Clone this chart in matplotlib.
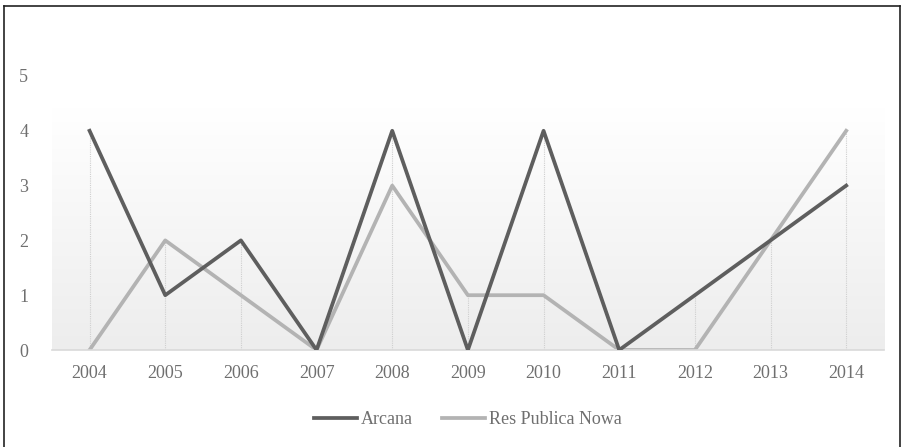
import matplotlib.pyplot as plt
import numpy as np

years = ['2004', '2005', '2006', '2007', '2008', '2009', '2010',
         '2011', '2012', '2013', '2014']
arcana = [4, 1, 2, 0, 4, 0, 4, 0, 1, 2, 3]
res_publica = [0, 2, 1, 0, 3, 1, 1, 0, 0, 2, 4]

plt.rcParams['font.family'] = ['Liberation Serif', 'DejaVu Serif']

fig = plt.figure(figsize=(9.03, 4.47), dpi=100)
ax = fig.add_axes([0.0573, 0.217, 0.9217, 0.613])

x = np.arange(len(years))

# soft grey gradient behind the lines
grad = np.linspace(0, 1, 256).reshape(-1, 1)
ax.imshow(grad, extent=[-0.5, 10.5, 0, 4.4], aspect='auto', origin='lower',
          cmap=plt.matplotlib.colors.LinearSegmentedColormap.from_list(
              'bg', ['#ededed', '#ffffff']), zorder=0)

# drop lines from each point to the baseline
tops = np.maximum(arcana, res_publica)
ax.vlines(x, 0, tops, colors='#cfcfcf', linewidth=0.8,
          linestyles=(0, (1, 1)), zorder=1)

ax.plot(x, arcana, color='#5e5e5e', linewidth=2.7, label='Arcana', zorder=3)
ax.plot(x, res_publica, color='#b3b3b3', linewidth=2.7,
        label='Res Publica Nowa', zorder=2)

ax.set_xlim(-0.5, 10.5)
ax.set_ylim(0, 5)
ax.set_xticks(x)
ax.set_xticklabels(years)
ax.set_yticks(range(6))

for side in ['top', 'right', 'left']:
    ax.spines[side].set_visible(False)
ax.spines['bottom'].set_color('#d9d9d9')
ax.spines['bottom'].set_linewidth(1.2)
ax.tick_params(axis='x', length=0, pad=11, labelsize=13, colors='#6f6f6f')
ax.tick_params(axis='y', length=0, pad=17, labelsize=13, colors='#6f6f6f')

ax.legend(loc='upper center', bbox_to_anchor=(0.5, -0.165), ncol=2,
          frameon=False, fontsize=13, handlelength=2.4, handletextpad=0.2,
          columnspacing=1.6, labelcolor='#6f6f6f')

# outer frame
frame_color = '#222222'
fig.add_artist(plt.Line2D([0.0045, 0.0045], [0, 0.987], color=frame_color, lw=1.2))
fig.add_artist(plt.Line2D([0.0045, 0.9967], [0.987, 0.987], color=frame_color, lw=1.2))
fig.add_artist(plt.Line2D([0.9967, 0.9967], [0, 0.987], color=frame_color, lw=1.2))

fig.savefig('out.png', dpi=100)
